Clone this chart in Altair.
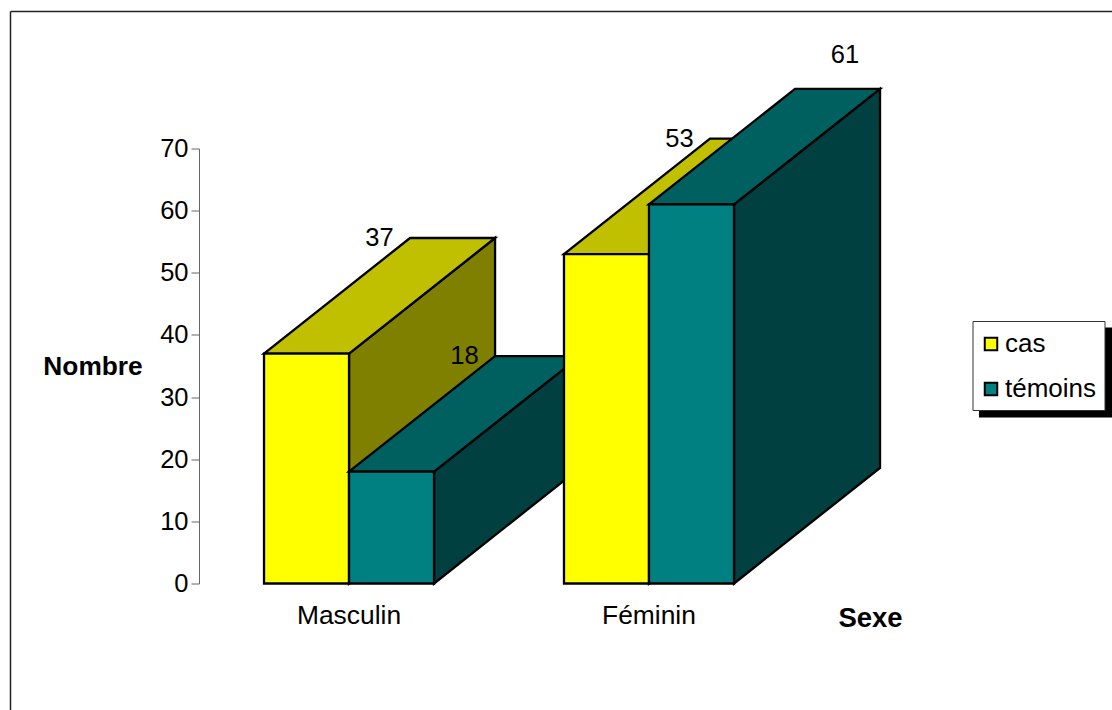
import altair as alt
import pandas as pd

FONT = "Liberation Sans"

# Survey counts by sex and group
sexes = ["Masculin", "Féminin"]
groups = ["cas", "témoins"]
cas_values = [37, 53]
temoins_values = [18, 61]

# Bar slot starts, in bar widths from the value axis
slot_starts = [0.765, 4.294]
bar_width = 1.0
depth_x = 1.718   # receding offset of the 3-D block, in bar widths
depth_y = 18.6    # receding offset of the 3-D block, in axis units

front_colors = ["#FFFF00", "#008080"]
top_colors = ["#C0C000", "#006060"]
side_colors = ["#808000", "#004040"]

# The last label sits clear of its block
label_shift_x = {"Féminin témoins": 0.947}
label_shift_y = {"Féminin témoins": 5.5}

x_scale = alt.Scale(domain=[0, 681 / 85], range=[0, 681], nice=False, zero=False)
y_scale = alt.Scale(domain=[0, 70], nice=False)
y_axis = alt.Axis(
    title=None,
    values=list(range(0, 71, 10)),
    grid=False,
    domainColor="#666666",
    tickColor="#666666",
    domainWidth=1,
    tickWidth=1,
    tickSize=8,
    labelPadding=3,
    labelFont=FONT,
    labelFontSize=25.5,
    labelColor="black",
)
x_q = lambda f: alt.X(f, type="quantitative", scale=x_scale, axis=None)
y_q = lambda f: alt.Y(f, type="quantitative", scale=y_scale, axis=y_axis)

outline = dict(stroke="black", strokeWidth=2.3, strokeJoin="miter")


def block(sex_i, group_i, value):
    """Side, top and front faces of one bar."""
    x0 = slot_starts[sex_i] + group_i * bar_width
    x1 = x0 + bar_width
    group = groups[group_i]

    side = pd.DataFrame({
        "x": [x1, x1 + depth_x],
        "low": [0, depth_y],
        "high": [value, value + depth_y],
    })
    top = pd.DataFrame({
        "y": [value, value + depth_y],
        "left": [x0, x0 + depth_x],
        "right": [x1, x1 + depth_x],
    })
    front = pd.DataFrame({"x": [x0], "x2": [x1], "v": [value], "base": [0], "group": [group]})

    side_layer = alt.Chart(side).mark_area(
        color=side_colors[group_i], orient="vertical", **outline
    ).encode(x=x_q("x"), y=y_q("high"), y2="low")
    top_layer = alt.Chart(top).mark_area(
        color=top_colors[group_i], orient="horizontal", **outline
    ).encode(y=y_q("y"), x=x_q("left"), x2="right")
    front_layer = alt.Chart(front).mark_rect(**outline).encode(
        x=x_q("x"),
        x2="x2",
        y=y_q("v"),
        y2="base",
        color=alt.Color(
            "group:N",
            scale=alt.Scale(domain=groups, range=front_colors),
            legend=alt.Legend(
                title=None,
                orient="none",
                legendX=772,
                legendY=175.5,
                padding=7,
                symbolType="square",
                symbolSize=156,
                symbolStrokeColor="black",
                symbolStrokeWidth=2,
                symbolOpacity=1,
                labelFont=FONT,
                labelFontSize=26,
                labelColor="black",
                labelOffset=1,
                rowPadding=19,
                labelLimit=200,
            ),
        ),
    )
    return [side_layer, top_layer, front_layer]


layers = []

# Page frame, open on the right and at the bottom
layers.append(alt.Chart(pd.DataFrame({"k": [0]})).mark_rule(color="#222222", strokeWidth=1.5).encode(
    x=alt.value(-188.5), y=alt.value(-137), y2=alt.value(562)))
layers.append(alt.Chart(pd.DataFrame({"k": [0]})).mark_rule(color="#222222", strokeWidth=1.5).encode(
    y=alt.value(-137), x=alt.value(-188.5), x2=alt.value(913)))

# Legend backing: drop shadow, then the white box
layers.append(alt.Chart(pd.DataFrame({"k": [0]})).mark_rect(color="black").encode(
    x=alt.value(780), x2=alt.value(913), y=alt.value(179), y2=alt.value(269)))
layers.append(alt.Chart(pd.DataFrame({"k": [0]})).mark_rect(
    color="white", stroke="#333333", strokeWidth=1
).encode(x=alt.value(774), x2=alt.value(906), y=alt.value(173), y2=alt.value(262)))

# Blocks, painted from back to front
for sex_i in range(len(sexes)):
    layers += block(sex_i, 0, cas_values[sex_i])
    layers += block(sex_i, 1, temoins_values[sex_i])

# Value labels above the rear edge of each block
label_rows = []
for sex_i, sex in enumerate(sexes):
    for group_i, series in enumerate([cas_values, temoins_values]):
        key = f"{sex} {groups[group_i]}"
        label_rows.append({
            "x": slot_starts[sex_i] + (group_i + 0.5) * bar_width + depth_x / 2 + label_shift_x.get(key, 0),
            "y": series[sex_i] + depth_y + label_shift_y.get(key, 0),
            "label": str(series[sex_i]),
        })
layers.append(alt.Chart(pd.DataFrame(label_rows)).mark_text(
    font=FONT, fontSize=25.5, color="black", baseline="middle", dy=0
).encode(x=x_q("x"), y=y_q("y"), text="label:N"))

# Category names under each pair of bars
category_rows = pd.DataFrame({
    "x": [s + bar_width for s in slot_starts],
    "label": sexes,
})
layers.append(alt.Chart(category_rows).mark_text(
    font=FONT, fontSize=26.4, color="black", baseline="middle"
).encode(x=x_q("x"), y=alt.value(467), text="label:N"))

# Axis titles
layers.append(alt.Chart(pd.DataFrame({"t": ["Nombre"]})).mark_text(
    font=FONT, fontSize=26.3, fontWeight="bold", color="black", baseline="middle"
).encode(x=alt.value(-106), y=alt.value(218), text="t:N"))
layers.append(alt.Chart(pd.DataFrame({"t": ["Sexe"]})).mark_text(
    font=FONT, fontSize=27.5, fontWeight="bold", color="black", baseline="middle"
).encode(x=alt.value(671.5), y=alt.value(470), text="t:N"))

chart = alt.layer(*layers).properties(
    width=681,
    height=435,
    padding={"left": 199, "top": 148.5, "right": 232, "bottom": 126.5},
    autosize=alt.AutoSizeParams(type="none"),
    background="white",
).configure_view(stroke=None)

chart.save("out.html", embed_options={"renderer": "svg", "actions": False})
